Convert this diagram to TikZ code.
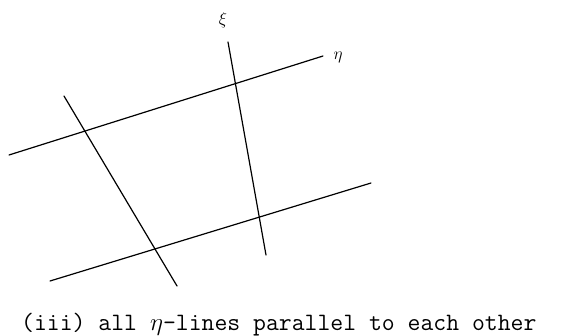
\documentclass[tikz,border=0pt]{standalone}
\usepackage{fontspec}
\begin{document}
\begin{tikzpicture}[x=1pt,y=-1pt,
  gridline/.style={line width=1.2pt,line cap=round},
  lbl/.style={inner sep=0pt,font=\fontsize{18}{20}\selectfont}]
\useasboundingbox (0,0) rectangle (561,335);
% eta lines
\coordinate (e1a) at (9,155);
\coordinate (e1b) at (323,56);
\coordinate (e2a) at (50,281);
\coordinate (e2b) at (371,183);
% xi lines
\coordinate (x1a) at (64,96);
\coordinate (x1b) at (177,286);
\coordinate (x2a) at (228,42);
\coordinate (x2b) at (266,255);
\draw[gridline] (e1a) -- (e1b);
\draw[gridline] (e2a) -- (e2b);
\draw[gridline] (x1a) -- (x1b);
\draw[gridline] (x2a) -- (x2b);
\node[lbl] (eta) at (338,57) {$\eta$};
\node[lbl] (xi) at (223,20) {$\xi$};
\node[inner sep=0pt,anchor=west,font=\ttfamily\fontsize{25}{27}\selectfont] (caption) at (21,325)
  {(iii) all \makebox[0.525em]{$\eta$}-lines parallel to each other};
\end{tikzpicture}
\end{document}
